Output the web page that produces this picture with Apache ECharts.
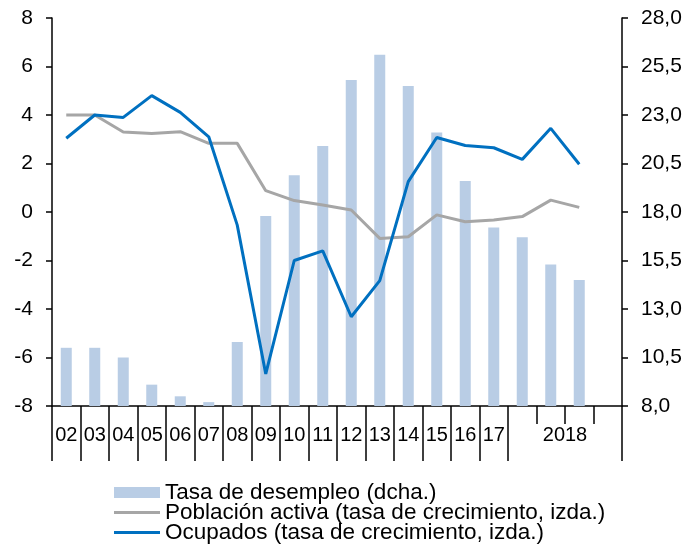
<!DOCTYPE html>
<html>
<head>
<meta charset="utf-8">
<script src="https://cdn.jsdelivr.net/npm/echarts@6/dist/echarts.min.js"></script>
<style>
  html, body { margin: 0; padding: 0; background: #fff; }
  #chart { width: 689px; height: 551px; }
</style>
</head>
<body>
<div id="chart"></div>
<script>
// categorias: años 2002-2017 y trimestres de 2018
var categories = ['02','03','04','05','06','07','08','09','10','11','12','13','14','15','16','17',
  '2018T1','2018T2','2018T3','2018T4'];
var yearGroups = ['', '', '', '', '2018'];

// Tasa de desempleo (dcha.)
var desempleo = [11.0, 11.0, 10.5, 9.1, 8.5, 8.2, 11.3, 17.8, 19.9, 21.4, 24.8, 26.1, 24.5, 22.1, 19.6, 17.2, 16.7, 15.3, 14.5];
// Población activa (tasa de crecimiento, izda.)
var poblacionActiva = [4.0, 4.0, 3.3, 3.24, 3.31, 2.83, 2.83, 0.88, 0.47, 0.29, 0.08, -1.09, -1.02, -0.12, -0.4, -0.33, -0.19, 0.49, 0.19];
// Ocupados (tasa de crecimiento, izda.)
var ocupados = [3.04, 4.0, 3.9, 4.8, 4.11, 3.1, -0.54, -6.68, -2.0, -1.6, -4.32, -2.83, 1.25, 3.07, 2.74, 2.65, 2.17, 3.45, 1.97];

var fontFam = '"Liberation Sans", Arial, sans-serif';
var lineIcon = 'path://M0,0L46,0L46,3L0,3Z';

var option = {
  animation: false,
  textStyle: { fontFamily: fontFam },
  grid: { left: 52, right: 67, top: 18, bottom: 145, containLabel: false },
  legend: {
    orient: 'vertical',
    left: 114,
    top: 481,
    padding: 0,
    itemGap: -3,
    itemWidth: 46,
    itemHeight: 11,
    textStyle: { color: '#000', fontSize: 22.5, lineHeight: 20, fontFamily: fontFam },
    data: [
      { name: 'Tasa de desempleo (dcha.)', icon: 'rect' },
      { name: 'Población activa (tasa de crecimiento, izda.)', icon: lineIcon },
      { name: 'Ocupados (tasa de crecimiento, izda.)', icon: lineIcon }
    ]
  },
  xAxis: [
    {
      type: 'category',
      data: categories,
      boundaryGap: true,
      axisLine: { show: true, onZero: false, lineStyle: { color: '#000', width: 1.5 } },
      axisTick: {
        show: true, length: 55,
        interval: function (idx) { return idx <= 16; },
        lineStyle: { color: '#000', width: 1.5 }
      },
      axisLabel: {
        interval: 0, margin: 19, color: '#000', fontSize: 20,
        formatter: function (v) { return v.length === 2 ? v : ''; }
      }
    },
    {
      type: 'category',
      data: categories,
      position: 'bottom',
      boundaryGap: true,
      axisLine: { show: false, onZero: false },
      axisTick: {
        show: true, length: 18,
        interval: function (idx) { return idx >= 17; },
        lineStyle: { color: '#000', width: 1.5 }
      },
      axisLabel: { show: false }
    },
    {
      type: 'category',
      data: yearGroups,
      position: 'bottom',
      boundaryGap: true,
      axisLine: { show: false, onZero: false },
      axisTick: { show: false },
      axisLabel: { interval: 0, margin: 19, color: '#000', fontSize: 20 }
    }
  ],
  yAxis: [
    {
      type: 'value',
      min: -8, max: 8, interval: 2,
      axisLine: { show: true, lineStyle: { color: '#000', width: 1.5 } },
      axisTick: { show: true, length: 6, lineStyle: { color: '#000', width: 1.5 } },
      axisLabel: { color: '#000', fontSize: 21, margin: 19 },
      splitLine: { show: false }
    },
    {
      type: 'value',
      min: 8, max: 28,
      alignTicks: true,
      position: 'right',
      axisLine: { show: true, lineStyle: { color: '#000', width: 1.5 } },
      axisTick: { show: true, length: 6, lineStyle: { color: '#000', width: 1.5 } },
      axisLabel: {
        color: '#000', fontSize: 21, margin: 19,
        formatter: function (v) { return v.toFixed(1).replace('.', ','); }
      },
      splitLine: { show: false }
    }
  ],
  series: [
    {
      name: 'Tasa de desempleo (dcha.)',
      type: 'bar',
      xAxisIndex: 0,
      yAxisIndex: 1,
      barWidth: 11,
      itemStyle: { color: '#b9cde5' },
      data: desempleo
    },
    {
      name: 'Población activa (tasa de crecimiento, izda.)',
      type: 'line',
      xAxisIndex: 0,
      yAxisIndex: 0,
      symbol: 'none',
      lineStyle: { color: '#a6a6a6', width: 3 },
      itemStyle: { color: '#a6a6a6' },
      data: poblacionActiva
    },
    {
      name: 'Ocupados (tasa de crecimiento, izda.)',
      type: 'line',
      xAxisIndex: 0,
      yAxisIndex: 0,
      symbol: 'none',
      lineStyle: { color: '#0070c0', width: 3 },
      itemStyle: { color: '#0070c0' },
      data: ocupados
    }
  ]
};

var myChart = echarts.init(document.getElementById('chart'));
myChart.setOption(option);
</script>
</body>
</html>
